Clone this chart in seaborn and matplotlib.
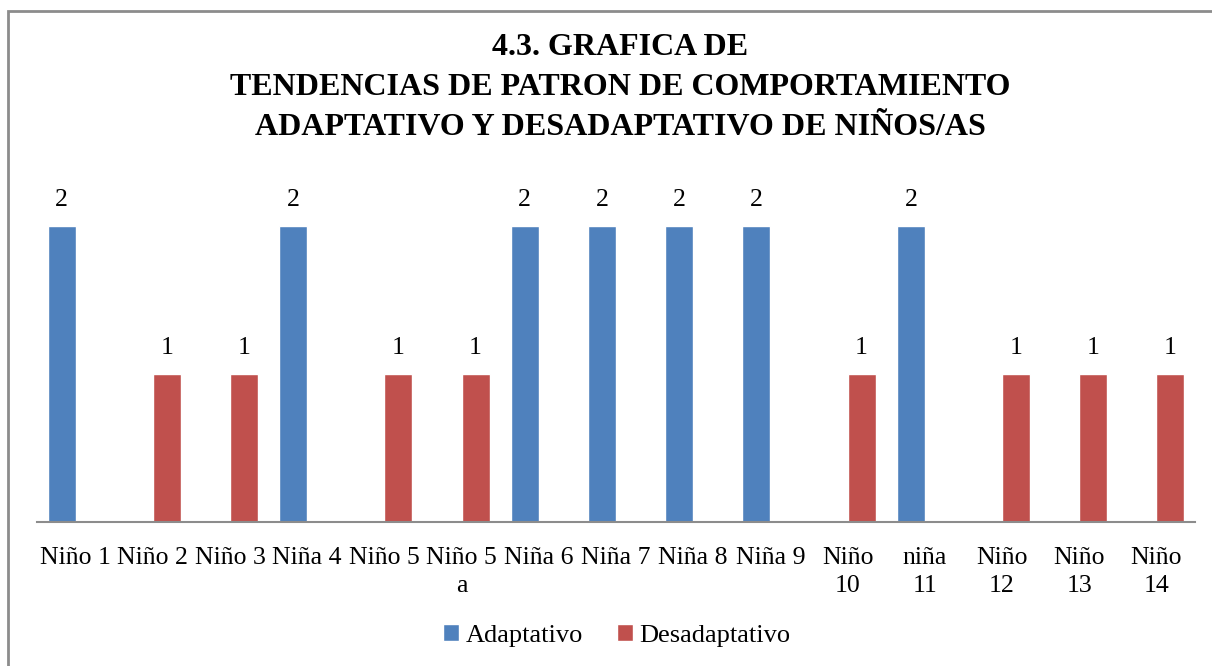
import pandas as pd
import matplotlib.pyplot as plt
import seaborn as sns
from matplotlib.patches import Rectangle

# datos de la grafica
ninos = ['Niño 1', 'Niño 2', 'Niño 3', 'Niña 4', 'Niño 5', 'Niño 5\na', 'Niña 6', 'Niña 7',
         'Niña 8', 'Niña 9', 'Niño\n10', 'niña\n11', 'Niño\n12', 'Niño\n13', 'Niño\n14']
adaptativo = [2, None, None, 2, None, None, 2, 2, 2, 2, None, 2, None, None, None]
desadaptativo = [None, 1, 1, None, 1, 1, None, None, None, None, 1, None, 1, 1, 1]
series = ['Adaptativo', 'Desadaptativo']
colores = ['#4F81BD', '#C0504D']

filas = []
for nombre, a, d in zip(ninos, adaptativo, desadaptativo):
    if a is not None:
        filas.append({'nino': nombre, 'tipo': 'Adaptativo', 'valor': a})
    if d is not None:
        filas.append({'nino': nombre, 'tipo': 'Desadaptativo', 'valor': d})
df = pd.DataFrame(filas)

sns.set_style('white')
plt.rcParams['font.family'] = ['Liberation Serif', 'DejaVu Serif']
plt.rcParams['text.color'] = 'black'
plt.rcParams['xtick.color'] = 'black'

fig = plt.figure(figsize=(12.12, 6.66), dpi=100)
ax = fig.add_axes([0.0305, 0.2162, 0.9555, 0.5556])

sns.barplot(data=df, x='nino', y='valor', hue='tipo', order=ninos, hue_order=series,
            palette=colores, width=0.725, dodge=True, saturation=1, ax=ax)

for cont in ax.containers:
    ax.bar_label(cont, padding=11, fontsize=18.5, color='black')

ax.set_ylim(0, 2.5)
ax.set_xlim(-0.5, len(ninos) - 0.5)
ax.set_xlabel('')
ax.set_ylabel('')
ax.set_yticks([])
ax.tick_params(axis='x', length=0, pad=18, labelsize=18.5, labelcolor='black')
for lbl in ax.get_xticklabels():
    lbl.set_linespacing(1.35)
for lado in ['left', 'right', 'top']:
    ax.spines[lado].set_visible(False)
ax.spines['bottom'].set_color('#8c8c8c')
ax.spines['bottom'].set_linewidth(1.5)

fig.text(0.512, 0.95, '4.3. GRAFICA DE\nTENDENCIAS DE PATRON DE COMPORTAMIENTO\nADAPTATIVO Y DESADAPTATIVO DE NIÑOS/AS',
         ha='center', va='top', fontsize=23, fontweight='bold', linespacing=1.5, color='black')

ax.legend(loc='center', bbox_to_anchor=(0.509, 0.046), bbox_transform=fig.transFigure,
          ncol=2, frameon=False, fontsize=19, handlelength=0.6, handleheight=0.6,
          handletextpad=0.25, columnspacing=1.3)

# marco del grafico
fig.patches.append(Rectangle((8 / 1212, -0.1), 1.2, 1 - 11 / 666 + 0.1, transform=fig.transFigure,
                             fill=False, edgecolor='#8c8c8c', linewidth=2))

fig.savefig('out.png', dpi=100)
